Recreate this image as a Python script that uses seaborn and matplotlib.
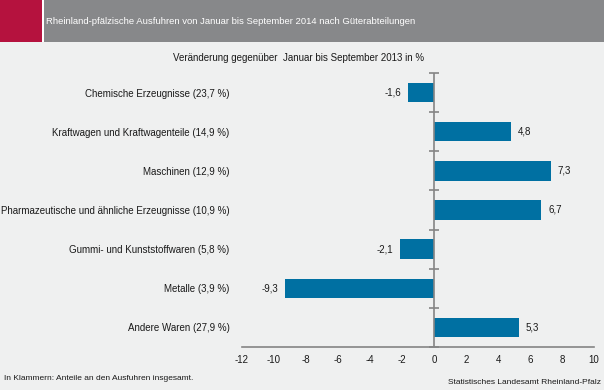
import matplotlib
matplotlib.use("Agg")
import matplotlib.pyplot as plt
from matplotlib.patches import Rectangle
import pandas as pd
import seaborn as sns

# Daten: Veraenderung Jan-Sep 2014 gegenueber Jan-Sep 2013 in %
categories = [
    "Chemische Erzeugnisse (23,7 %)",
    "Kraftwagen und Kraftwagenteile (14,9 %)",
    "Maschinen (12,9 %)",
    "Pharmazeutische und ähnliche Erzeugnisse (10,9 %)",
    "Gummi- und Kunststoffwaren (5,8 %)",
    "Metalle (3,9 %)",
    "Andere Waren (27,9 %)",
]
values = [-1.6, 4.8, 7.3, 6.7, -2.1, -9.3, 5.3]
xticks = [-12, -10, -8, -6, -4, -2, 0, 2, 4, 6, 8, 10]

title = "Rheinland-pfälzische Ausfuhren von Januar bis September 2014 nach Güterabteilungen"
subtitle = "Veränderung gegenüber  Januar bis September 2013 in %"
note = "In Klammern: Anteile an den Ausfuhren insgesamt."
source = "Statistisches Landesamt Rheinland-Pfalz"

bg = "#eff0f0"
bar_color = "#0070a2"
axis_gray = "#858585"

sns.set_theme(style="white")
plt.rcParams["font.family"] = ["Liberation Sans", "DejaVu Sans"]

df = pd.DataFrame({"Kategorie": categories, "Wert": values})

fig = plt.figure(figsize=(6.04, 3.90), dpi=100, facecolor=bg)
ax = fig.add_axes([242 / 604, 1 - 347 / 390, 352 / 604, (347 - 73) / 390])
ax.set_facecolor(bg)

sns.barplot(data=df, x="Wert", y="Kategorie", color=bar_color, width=0.5,
            saturation=1, linewidth=0, ax=ax)

ax.set_xlim(-12, 10)
ax.set_ylim(len(categories) - 0.5, -0.5)
ax.set_xticks(xticks)
ax.set_xticklabels([str(t) for t in xticks], fontsize=7, color="#1a1a1a")
ax.set_xlabel("")
ax.set_ylabel("")
ax.tick_params(axis="x", direction="out", length=4, width=1.2, color=axis_gray, pad=2)
ax.tick_params(axis="y", length=0, pad=9, labelsize=7, labelcolor="#1a1a1a")

for s in ["top", "right", "left"]:
    ax.spines[s].set_visible(False)
ax.spines["bottom"].set_color(axis_gray)
ax.spines["bottom"].set_linewidth(1.2)

# vertikale Achse bei 0 mit Trennstrichen zwischen den Kategorien
ax.axvline(0, color=axis_gray, linewidth=1.2, zorder=3)
sec = ax.secondary_yaxis(12 / 22)
for s in sec.spines.values():
    s.set_visible(False)
sec.set_yticks([i - 0.5 for i in range(len(categories) + 1)])
sec.set_yticklabels([])
sec.tick_params(axis="y", direction="inout", length=7, width=1.2, color=axis_gray)

# Wertebeschriftung
for i, v in enumerate(values):
    txt = f"{v:.1f}".replace(".", ",")
    if v >= 0:
        ax.annotate(txt, (v, i), xytext=(5, 0), textcoords="offset points",
                    ha="left", va="center", fontsize=7, color="#1a1a1a")
    else:
        ax.annotate(txt, (v, i), xytext=(-5, 0), textcoords="offset points",
                    ha="right", va="center", fontsize=7, color="#1a1a1a")

# Kopfzeile
fig.patches.append(Rectangle((0, 1 - 42 / 390), 1, 42 / 390, transform=fig.transFigure,
                             facecolor="#87888a", edgecolor="none", zorder=0))
fig.patches.append(Rectangle((0, 1 - 42 / 390), 42 / 604, 42 / 390, transform=fig.transFigure,
                             facecolor="#b5123e", edgecolor="none", zorder=1))
fig.patches.append(Rectangle((42 / 604, 1 - 42 / 390), 1.5 / 604, 42 / 390, transform=fig.transFigure,
                             facecolor="white", edgecolor="none", zorder=2))
fig.text(46 / 604, 1 - 21 / 390, title, color="white", fontsize=6.8, ha="left", va="center")

fig.text(173 / 604, 1 - 58 / 390, subtitle, fontsize=7, ha="left", va="center", color="#1a1a1a")
fig.text(4 / 604, 1 - 379 / 390, note, fontsize=6, ha="left", va="center", color="#1a1a1a")
fig.text(601 / 604, 1 - 383 / 390, source, fontsize=6, ha="right", va="center", color="#1a1a1a")

fig.savefig("out.png", dpi=100, facecolor=bg)
